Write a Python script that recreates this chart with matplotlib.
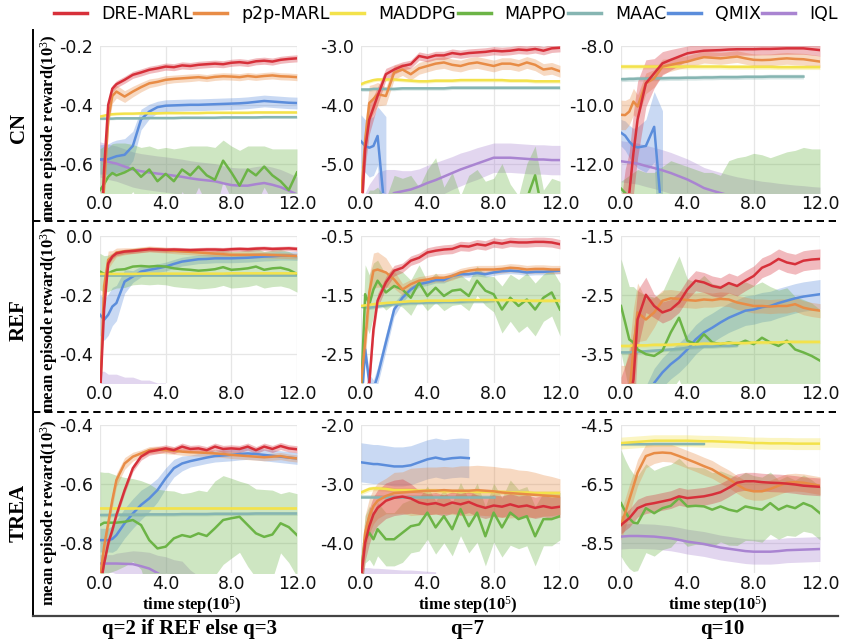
import numpy as np
import matplotlib
matplotlib.use('Agg')
import matplotlib.pyplot as plt
from matplotlib.lines import Line2D

plt.rcParams['axes.unicode_minus'] = False
plt.rcParams['mathtext.fontset'] = 'custom'
plt.rcParams['mathtext.rm'] = 'Liberation Serif'
plt.rcParams['mathtext.bf'] = 'Liberation Serif:bold'
plt.rcParams['mathtext.it'] = 'Liberation Serif:italic'

methods = ['DRE-MARL', 'p2p-MARL', 'MADDPG', 'MAPPO', 'MAAC', 'QMIX', 'IQL']
colors = ['#d7303a', '#e88c46', '#f3e24b', '#6cb446', '#86b5b2', '#5b8ddb', '#a984d1']
envs = ['CN', 'REF', 'TREA']
col_titles = ['q=2 if REF else q=3', 'q=7', 'q=10']
xticks = [0, 4, 8, 12]

# time step (1e5), shared by every curve
steps = [0.0, 0.25, 0.5, 0.75, 1.0, 1.5, 2.0, 2.5, 3.0,
         3.5, 4.0, 4.5, 5.0, 5.5, 6.0, 6.5, 7.0, 7.5,
         8.0, 8.5, 9.0, 9.5, 10.0, 10.5, 11.0, 11.5, 12.0]

# ---------------- CN, q=3 ----------------
cn_q3_ylim = (-0.7, -0.2)
cn_q3_yticks = [-0.6, -0.4, -0.2]
cn_q3_dre = [-0.90, -0.62, -0.40, -0.345, -0.330, -0.315, -0.298, -0.290, -0.281,
             -0.276, -0.270, -0.272, -0.266, -0.268, -0.264, -0.262, -0.260, -0.262,
             -0.257, -0.255, -0.258, -0.252, -0.250, -0.253, -0.247, -0.244, -0.242]
cn_q3_dre_sd = 0.012
cn_q3_p2p = [-0.90, -0.68, -0.45, -0.370, -0.355, -0.372, -0.355, -0.340, -0.327,
             -0.322, -0.315, -0.312, -0.310, -0.308, -0.306, -0.309, -0.305, -0.303,
             -0.304, -0.306, -0.302, -0.305, -0.302, -0.300, -0.303, -0.304, -0.306]
cn_q3_p2p_sd = [0.030, 0.030, 0.030, 0.025, 0.022, 0.020, 0.018, 0.016, 0.015,
                0.014, 0.014, 0.013, 0.013, 0.013, 0.012, 0.012, 0.012, 0.012,
                0.012, 0.012, 0.012, 0.012, 0.012, 0.012, 0.012, 0.012, 0.012]
cn_q3_maddpg = [-0.440, -0.437, -0.434, -0.432, -0.431, -0.430, -0.430, -0.429, -0.429,
                -0.429, -0.428, -0.428, -0.428, -0.428, -0.428, -0.427, -0.427, -0.427,
                -0.427, -0.427, -0.427, -0.426, -0.426, -0.426, -0.426, -0.426, -0.426]
cn_q3_maddpg_sd = 0.004
cn_q3_mappo = [-0.690, -0.670, -0.645, -0.632, -0.640, -0.630, -0.615, -0.645, -0.620,
               -0.660, -0.635, -0.660, -0.620, -0.640, -0.610, -0.640, -0.655, -0.590,
               -0.630, -0.675, -0.620, -0.640, -0.610, -0.640, -0.660, -0.690, -0.630]
cn_q3_mappo_sd = [0.14, 0.13, 0.10, 0.10, 0.11, 0.10, 0.08, 0.10, 0.08,
                  0.11, 0.09, 0.11, 0.075, 0.10, 0.07, 0.10, 0.11, 0.07,
                  0.09, 0.12, 0.08, 0.10, 0.07, 0.09, 0.11, 0.14, 0.08]
cn_q3_maac = [-0.447, -0.447, -0.447, -0.447, -0.446, -0.446, -0.446, -0.446, -0.445,
              -0.445, -0.445, -0.445, -0.444, -0.444, -0.444, -0.444, -0.444, -0.443,
              -0.443, -0.443, -0.443, -0.443, -0.442, -0.442, -0.442, -0.442, -0.442]
cn_q3_maac_sd = 0.004
cn_q3_qmix = [-0.586, -0.585, -0.585, -0.580, -0.575, -0.570, -0.540, -0.450, -0.423,
              -0.408, -0.403, -0.402, -0.401, -0.400, -0.400, -0.399, -0.398, -0.397,
              -0.396, -0.395, -0.393, -0.390, -0.387, -0.389, -0.391, -0.393, -0.394]
cn_q3_qmix_sd = [0.050, 0.050, 0.052, 0.055, 0.055, 0.055, 0.050, 0.035, 0.025,
                 0.020, 0.020, 0.020, 0.020, 0.020, 0.020, 0.020, 0.020, 0.020,
                 0.020, 0.020, 0.020, 0.020, 0.020, 0.020, 0.020, 0.020, 0.020]
cn_q3_iql = [-0.586, -0.590, -0.594, -0.597, -0.600, -0.610, -0.620, -0.626, -0.630,
             -0.634, -0.637, -0.641, -0.645, -0.650, -0.654, -0.657, -0.660, -0.667,
             -0.673, -0.675, -0.675, -0.670, -0.666, -0.672, -0.680, -0.692, -0.705]
cn_q3_iql_sd = 0.06

# ---------------- CN, q=7 ----------------
cn_q7_ylim = (-5.5, -3.0)
cn_q7_yticks = [-5.0, -4.0, -3.0]
cn_q7_dre = [-6.00, -4.76, -4.25, -4.05, -3.85, -3.48, -3.40, -3.34, -3.31,
             -3.17, -3.20, -3.16, -3.16, -3.12, -3.14, -3.12, -3.11, -3.10,
             -3.08, -3.09, -3.08, -3.06, -3.07, -3.05, -3.08, -3.04, -3.03]
cn_q7_dre_sd = [0.30, 0.30, 0.25, 0.20, 0.15, 0.10, 0.08, 0.07, 0.07,
                0.07, 0.07, 0.07, 0.07, 0.07, 0.07, 0.07, 0.07, 0.07,
                0.07, 0.07, 0.07, 0.07, 0.07, 0.07, 0.07, 0.07, 0.07]
cn_q7_p2p = [-5.60, -4.60, -3.97, -3.90, -3.82, -3.85, -3.45, -3.40, -3.48,
             -3.38, -3.34, -3.30, -3.28, -3.32, -3.34, -3.30, -3.28, -3.31,
             -3.34, -3.30, -3.30, -3.33, -3.28, -3.32, -3.40, -3.38, -3.43]
cn_q7_p2p_sd = [0.30, 0.30, 0.30, 0.25, 0.20, 0.15, 0.12, 0.10, 0.10,
                0.10, 0.10, 0.10, 0.10, 0.10, 0.10, 0.10, 0.10, 0.10,
                0.10, 0.10, 0.10, 0.10, 0.10, 0.10, 0.10, 0.10, 0.10]
cn_q7_maddpg = [-3.65, -3.62, -3.60, -3.58, -3.57, -3.57, -3.57, -3.58, -3.59,
                -3.60, -3.60, -3.59, -3.59, -3.59, -3.58, -3.58, -3.58, -3.58,
                -3.58, -3.58, -3.59, -3.59, -3.59, -3.60, -3.60, -3.60, -3.60]
cn_q7_maddpg_sd = 0.03
cn_q7_mappo = [-6.20, -6.10, -6.00, -5.95, -5.90, -6.10, -5.80, -6.00, -5.75,
               -6.00, -5.70, -5.55, -5.90, -5.75, -6.00, -5.80, -5.60, -5.90,
               -5.80, -5.70, -5.85, -6.00, -5.60, -5.20, -5.90, -5.75, -5.85]
cn_q7_mappo_sd = [0.50, 0.50, 0.55, 0.50, 0.50, 0.50, 0.60, 0.75, 0.55,
                  0.60, 0.60, 0.65, 0.50, 0.60, 0.45, 0.60, 0.50, 0.60,
                  0.55, 0.70, 0.50, 0.45, 0.60, 0.50, 0.45, 0.50, 0.55]
cn_q7_maac = [-3.74, -3.74, -3.74, -3.73, -3.73, -3.73, -3.73, -3.72, -3.72,
              -3.72, -3.72, -3.72, -3.72, -3.71, -3.71, -3.71, -3.71, -3.71,
              -3.71, -3.71, -3.71, -3.71, -3.71, -3.71, -3.71, -3.71, -3.71]
cn_q7_maac_sd = 0.03
cn_q7_qmix = [-4.62, -4.70, -4.73, -4.70, -4.53, -6.00, None, None, None,
              None, None, None, None, None, None, None, None, None,
              None, None, None, None, None, None, None, None, None]
cn_q7_qmix_sd = [0.45, 0.45, 0.50, 0.50, 0.50, 1.80, None, None, None,
                 None, None, None, None, None, None, None, None, None,
                 None, None, None, None, None, None, None, None, None]
cn_q7_iql = [-5.90, -5.85, -5.80, -5.75, -5.70, -5.60, -5.50, -5.47, -5.44,
             -5.39, -5.33, -5.28, -5.22, -5.16, -5.10, -5.05, -5.00, -4.95,
             -4.90, -4.90, -4.90, -4.91, -4.92, -4.93, -4.93, -4.94, -4.94]
cn_q7_iql_sd = [0.30, 0.35, 0.45, 0.50, 0.55, 0.50, 0.40, 0.35, 0.32,
                0.30, 0.30, 0.30, 0.29, 0.28, 0.28, 0.27, 0.27, 0.26,
                0.25, 0.25, 0.25, 0.25, 0.25, 0.25, 0.25, 0.25, 0.25]

# ---------------- CN, q=10 ----------------
cn_q10_ylim = (-13.0, -8.0)
cn_q10_yticks = [-12.0, -10.0, -8.0]
cn_q10_dre = [-14.50, -13.50, -13.00, -11.64, -10.50, -9.27, -8.93, -8.59, -8.47,
              -8.36, -8.25, -8.20, -8.16, -8.15, -8.14, -8.12, -8.11, -8.11,
              -8.11, -8.10, -8.10, -8.09, -8.08, -8.08, -8.08, -8.11, -8.14]
cn_q10_dre_sd = [1.2, 1.3, 1.4, 1.4, 1.3, 0.8, 0.5, 0.4, 0.35,
                 0.3, 0.25, 0.25, 0.22, 0.2, 0.2, 0.2, 0.2, 0.2,
                 0.2, 0.2, 0.2, 0.2, 0.2, 0.2, 0.2, 0.2, 0.2]
cn_q10_p2p = [-10.34, -10.35, -10.23, -9.89, -10.06, -9.27, -9.10, -8.70, -8.64,
              -8.58, -8.53, -8.45, -8.38, -8.40, -8.42, -8.39, -8.36, -8.42,
              -8.47, -8.48, -8.47, -8.44, -8.42, -8.44, -8.45, -8.49, -8.53]
cn_q10_p2p_sd = [0.50, 0.50, 0.45, 0.45, 0.40, 0.35, 0.30, 0.25, 0.22,
                 0.20, 0.20, 0.20, 0.20, 0.20, 0.20, 0.20, 0.20, 0.20,
                 0.20, 0.20, 0.20, 0.20, 0.20, 0.20, 0.20, 0.20, 0.20]
cn_q10_maddpg = [-8.70, -8.70, -8.70, -8.70, -8.70, -8.70, -8.70, -8.70, -8.70,
                 -8.70, -8.70, -8.70, -8.70, -8.70, -8.70, -8.71, -8.71, -8.71,
                 -8.71, -8.71, -8.71, -8.72, -8.72, -8.72, -8.72, -8.72, -8.72]
cn_q10_maddpg_sd = 0.08
cn_q10_mappo = [-12.85, -13.00, -13.20, -13.50, -13.80, -14.00, -14.00, -14.00, -14.00,
                -14.00, -14.00, -14.00, -14.00, -14.00, -14.00, -14.00, -14.00, -14.00,
                -14.00, -14.00, -14.00, -14.00, -14.00, -14.00, -14.00, -14.00, -14.00]
cn_q10_mappo_sd = [0.25, 0.5, 0.8, 1.2, 1.6, 1.7, 1.7, 1.9, 2.1,
                   2.0, 1.9, 1.8, 1.7, 1.7, 1.6, 2.1, 2.2, 2.25,
                   2.35, 2.3, 2.2, 2.3, 2.4, 2.45, 2.55, 2.5, 2.5]
cn_q10_maac = [-9.13, -9.13, -9.12, -9.12, -9.11, -9.11, -9.10, -9.10, -9.09,
               -9.09, -9.08, -9.08, -9.07, -9.07, -9.06, -9.06, -9.06, -9.05,
               -9.05, -9.05, -9.04, -9.04, -9.04, -9.04, -9.04, None, None]
cn_q10_maac_sd = 0.08
cn_q10_qmix = [-10.95, -11.05, -11.25, -11.40, -11.45, -11.40, -10.75, -14.00, None,
               None, None, None, None, None, None, None, None, None,
               None, None, None, None, None, None, None, None, None]
cn_q10_qmix_sd = [0.45, 0.50, 0.55, 0.60, 0.70, 0.90, 1.20, 3.80, None,
                  None, None, None, None, None, None, None, None, None,
                  None, None, None, None, None, None, None, None, None]
cn_q10_iql = [-11.92, -11.94, -11.96, -11.98, -12.00, -12.08, -12.15, -12.23, -12.32,
              -12.43, -12.54, -12.68, -12.83, -12.92, -13.00, -13.08, -13.15, -13.20,
              -13.25, -13.30, -13.33, -13.37, -13.40, -13.43, -13.45, -13.48, -13.50]
cn_q10_iql_sd = 0.7

# ---------------- REF, q=2 ----------------
ref_q2_ylim = (-0.5, 0.0)
ref_q2_yticks = [-0.4, -0.2, 0.0]
ref_q2_dre = [-0.550, -0.250, -0.093, -0.070, -0.059, -0.053, -0.051, -0.048, -0.045,
              -0.046, -0.047, -0.046, -0.047, -0.048, -0.047, -0.046, -0.046, -0.047,
              -0.045, -0.044, -0.045, -0.043, -0.042, -0.044, -0.043, -0.042, -0.044]
ref_q2_dre_sd = 0.008
ref_q2_p2p = [-0.550, -0.170, -0.081, -0.070, -0.056, -0.052, -0.050, -0.047, -0.044,
              -0.046, -0.048, -0.050, -0.052, -0.054, -0.056, -0.058, -0.060, -0.062,
              -0.064, -0.064, -0.064, -0.064, -0.064, -0.065, -0.066, -0.067, -0.068]
ref_q2_p2p_sd = [0.030, 0.030, 0.030, 0.020, 0.015, 0.012, 0.010, 0.010, 0.010,
                 0.010, 0.010, 0.010, 0.010, 0.010, 0.010, 0.010, 0.010, 0.010,
                 0.010, 0.010, 0.010, 0.010, 0.010, 0.010, 0.010, 0.010, 0.010]
ref_q2_maddpg = [-0.129, -0.129, -0.129, -0.129, -0.129, -0.129, -0.129, -0.128, -0.128,
                 -0.128, -0.128, -0.128, -0.128, -0.128, -0.128, -0.128, -0.128, -0.128,
                 -0.127, -0.127, -0.127, -0.127, -0.127, -0.127, -0.127, -0.127, -0.127]
ref_q2_maddpg_sd = 0.004
ref_q2_mappo = [-0.121, -0.129, -0.127, -0.120, -0.115, -0.113, -0.104, -0.102, -0.104,
                -0.102, -0.104, -0.110, -0.113, -0.115, -0.118, -0.116, -0.113, -0.106,
                -0.115, -0.113, -0.110, -0.104, -0.115, -0.110, -0.108, -0.115, -0.129]
ref_q2_mappo_sd = 0.062
ref_q2_maac = [-0.134, -0.134, -0.134, -0.134, -0.134, -0.134, -0.134, -0.134, -0.134,
               -0.134, -0.134, -0.134, -0.134, -0.134, -0.134, -0.134, -0.134, -0.134,
               -0.134, -0.134, -0.134, -0.134, -0.134, -0.134, -0.134, -0.134, -0.134]
ref_q2_maac_sd = 0.005
ref_q2_qmix = [-0.268, -0.285, -0.268, -0.240, -0.228, -0.155, -0.138, -0.121, -0.115,
               -0.110, -0.104, -0.095, -0.087, -0.083, -0.079, -0.078, -0.076, -0.076,
               -0.076, -0.075, -0.074, -0.072, -0.070, -0.069, -0.067, -0.067, -0.068]
ref_q2_qmix_sd = [0.070, 0.070, 0.070, 0.065, 0.060, 0.040, 0.020, 0.018, 0.016,
                  0.015, 0.015, 0.015, 0.015, 0.015, 0.015, 0.015, 0.015, 0.015,
                  0.015, 0.015, 0.015, 0.015, 0.015, 0.015, 0.015, 0.015, 0.015]
ref_q2_iql = [-0.60, -0.60, -0.61, -0.61, -0.61, -0.62, -0.62, -0.63, -0.63,
              -0.64, -0.64, None, None, None, None, None, None, None,
              None, None, None, None, None, None, None, None, None]
ref_q2_iql_sd = 0.14

# ---------------- REF, q=7 ----------------
ref_q7_ylim = (-3.0, -0.5)
ref_q7_yticks = [-2.5, -1.5, -0.5]
ref_q7_dre = [-3.50, -3.30, -3.00, -2.09, -1.60, -1.29, -1.09, -1.04, -0.92,
              -0.87, -0.78, -0.75, -0.73, -0.72, -0.67, -0.68, -0.64, -0.66,
              -0.61, -0.63, -0.60, -0.61, -0.61, -0.60, -0.60, -0.61, -0.64]
ref_q7_dre_sd = [0.20, 0.20, 0.20, 0.15, 0.12, 0.10, 0.09, 0.08, 0.08,
                 0.08, 0.08, 0.08, 0.08, 0.08, 0.08, 0.08, 0.08, 0.08,
                 0.08, 0.08, 0.08, 0.08, 0.08, 0.08, 0.08, 0.08, 0.08]
ref_q7_p2p = [-3.00, -2.31, -1.46, -1.09, -1.07, -1.12, -1.24, -1.41, -1.32,
              -1.26, -1.24, -1.21, -1.21, -1.18, -1.12, -1.09, -1.07, -1.07,
              -1.07, -1.06, -1.04, -1.05, -1.07, -1.06, -1.06, -1.07, -1.07]
ref_q7_p2p_sd = [0.30, 0.30, 0.30, 0.30, 0.30, 0.25, 0.15, 0.10, 0.08,
                 0.07, 0.07, 0.07, 0.07, 0.07, 0.07, 0.07, 0.07, 0.07,
                 0.07, 0.07, 0.07, 0.07, 0.07, 0.07, 0.07, 0.07, 0.07]
ref_q7_maddpg = [-1.69, -1.68, -1.67, -1.66, -1.65, -1.64, -1.63, -1.62, -1.61,
                 -1.61, -1.60, -1.60, -1.60, -1.60, -1.59, -1.59, -1.59, -1.59,
                 -1.59, -1.59, -1.59, -1.60, -1.60, -1.60, -1.60, -1.60, -1.60]
ref_q7_maddpg_sd = 0.03
ref_q7_mappo = [-3.20, -1.49, -1.66, -1.41, -1.26, -1.46, -1.35, -1.41, -1.55,
                -1.29, -1.52, -1.38, -1.52, -1.43, -1.41, -1.52, -1.26, -1.43,
                -1.49, -1.75, -1.55, -1.69, -1.58, -1.75, -1.55, -1.46, -1.75]
ref_q7_mappo_sd = [0.30, 0.50, 0.50, 0.45, 0.35, 0.30, 0.30, 0.30, 0.30,
                   0.30, 0.25, 0.25, 0.25, 0.25, 0.25, 0.25, 0.25, 0.25,
                   0.30, 0.40, 0.40, 0.45, 0.45, 0.45, 0.40, 0.40, 0.45]
ref_q7_maac = [-1.70, -1.71, -1.72, -1.71, -1.70, -1.68, -1.66, -1.65, -1.64,
               -1.64, -1.63, -1.63, -1.62, -1.62, -1.62, -1.61, -1.61, -1.61,
               -1.60, None, None, None, None, None, None, None, None]
ref_q7_maac_sd = 0.03
ref_q7_qmix = [-3.50, -2.43, -3.00, -3.10, -2.88, -2.31, -1.75, -1.55, -1.41,
               -1.32, -1.29, -1.25, -1.25, -1.18, -1.15, -1.15, -1.13, -1.15,
               -1.12, -1.10, -1.09, -1.10, -1.12, -1.11, -1.11, -1.10, -1.09]
ref_q7_qmix_sd = [0.15, 0.15, 0.15, 0.15, 0.15, 0.15, 0.12, 0.08, 0.06,
                  0.05, 0.05, 0.05, 0.05, 0.05, 0.05, 0.05, 0.05, 0.05,
                  0.05, 0.05, 0.05, 0.05, 0.05, 0.05, 0.05, 0.05, 0.05]
ref_q7_iql = None
ref_q7_iql_sd = None

# ---------------- REF, q=10 ----------------
ref_q10_ylim = (-4.0, -1.5)
ref_q10_yticks = [-3.5, -2.5, -1.5]
ref_q10_dre = [-4.50, -4.40, -4.30, -3.94, -2.92, -2.50, -2.69, -2.80, -2.75,
               -2.63, -2.41, -2.26, -2.29, -2.35, -2.38, -2.30, -2.35, -2.26,
               -2.18, -2.04, -1.98, -1.89, -1.95, -1.98, -1.92, -1.90, -1.89]
ref_q10_dre_sd = [0.60, 0.70, 0.80, 0.80, 0.50, 0.30, 0.20, 0.18, 0.17,
                  0.17, 0.17, 0.17, 0.17, 0.17, 0.17, 0.17, 0.17, 0.17,
                  0.17, 0.17, 0.17, 0.17, 0.17, 0.17, 0.17, 0.17, 0.17]
ref_q10_p2p = [-4.50, -4.50, -4.20, -3.43, -2.80, -2.92, -2.80, -2.60, -2.56,
               -2.57, -2.59, -2.60, -2.58, -2.59, -2.57, -2.58, -2.63, -2.66,
               -2.69, -2.69, -2.70, -2.69, -2.69, -2.66, -2.72, -2.75, -2.77]
ref_q10_p2p_sd = [0.80, 0.80, 0.80, 0.70, 0.50, 0.35, 0.25, 0.18, 0.15,
                  0.14, 0.13, 0.13, 0.13, 0.12, 0.12, 0.12, 0.12, 0.12,
                  0.12, 0.12, 0.12, 0.12, 0.12, 0.12, 0.12, 0.12, 0.12]
ref_q10_maddpg = [-3.37, -3.37, -3.37, -3.36, -3.36, -3.36, -3.35, -3.35, -3.35,
                  -3.34, -3.34, -3.34, -3.33, -3.33, -3.33, -3.32, -3.32, -3.32,
                  -3.31, -3.31, -3.31, -3.31, -3.30, -3.30, -3.30, -3.30, -3.30]
ref_q10_maddpg_sd = 0.03
ref_q10_mappo = [-2.69, -2.97, -3.26, -3.31, -3.43, -3.51, -3.54, -3.45, -3.14,
                 -2.89, -3.28, -3.34, -3.17, -3.31, -3.34, -3.31, -3.34, -3.28,
                 -3.34, -3.23, -3.31, -3.37, -3.28, -3.43, -3.48, -3.54, -3.62]
ref_q10_mappo_sd = [0.80, 0.85, 0.90, 0.95, 1.00, 1.00, 1.00, 1.00, 1.00,
                    1.05, 1.05, 1.05, 1.00, 1.00, 1.00, 1.00, 1.00, 1.00,
                    1.00, 0.95, 0.95, 0.95, 0.90, 0.90, 0.90, 0.90, 0.87]
ref_q10_maac = [-3.48, -3.48, -3.48, -3.47, -3.47, -3.46, -3.45, -3.44, -3.43,
                -3.42, -3.40, -3.39, -3.38, -3.38, -3.37, -3.37, -3.36, None,
                None, None, None, None, None, None, None, None, None]
ref_q10_maac_sd = 0.03
ref_q10_qmix = [-5.00, -4.95, -4.90, -4.80, -4.60, -4.30, -4.00, -3.82, -3.68,
                -3.57, -3.43, -3.26, -3.14, -3.06, -2.97, -2.89, -2.83, -2.77,
                -2.75, -2.71, -2.69, -2.64, -2.60, -2.56, -2.53, -2.51, -2.49]
ref_q10_qmix_sd = 0.25
ref_q10_iql = None
ref_q10_iql_sd = None

# ---------------- TREA, q=3 ----------------
trea_q3_ylim = (-0.9, -0.4)
trea_q3_yticks = [-0.8, -0.6, -0.4]
trea_q3_dre = [-0.950, -0.868, -0.800, -0.755, -0.704, -0.620, -0.546, -0.507, -0.490,
               -0.485, -0.479, -0.485, -0.473, -0.481, -0.479, -0.485, -0.473, -0.481,
               -0.479, -0.481, -0.473, -0.485, -0.473, -0.481, -0.471, -0.479, -0.482]
trea_q3_dre_sd = 0.012
trea_q3_p2p = [-0.920, -0.810, -0.732, -0.654, -0.586, -0.530, -0.507, -0.496, -0.485,
               -0.483, -0.485, -0.487, -0.490, -0.492, -0.493, -0.494, -0.496, -0.498,
               -0.501, -0.503, -0.505, -0.507, -0.509, -0.507, -0.505, -0.510, -0.513]
trea_q3_p2p_sd = [0.025, 0.025, 0.025, 0.025, 0.022, 0.020, 0.015, 0.012, 0.012,
                  0.012, 0.012, 0.012, 0.012, 0.012, 0.012, 0.012, 0.012, 0.012,
                  0.012, 0.012, 0.012, 0.012, 0.012, 0.012, 0.012, 0.012, 0.012]
trea_q3_maddpg = [-0.682, -0.682, -0.682, -0.682, -0.682, -0.682, -0.682, -0.682, -0.682,
                  -0.682, -0.682, -0.682, -0.682, -0.682, -0.682, -0.682, -0.682, -0.682,
                  -0.682, -0.682, -0.682, -0.682, -0.682, -0.682, -0.682, -0.682, -0.682]
trea_q3_maddpg_sd = 0.005
trea_q3_mappo = [-0.738, -0.730, -0.730, -0.730, -0.730, -0.727, -0.721, -0.738, -0.789,
                 -0.817, -0.811, -0.783, -0.772, -0.778, -0.766, -0.775, -0.749, -0.721,
                 -0.715, -0.710, -0.738, -0.766, -0.778, -0.770, -0.732, -0.745, -0.772]
trea_q3_mappo_sd = [0.18, 0.17, 0.17, 0.165, 0.16, 0.15, 0.14, 0.15, 0.19,
                    0.20, 0.19, 0.16, 0.14, 0.15, 0.146, 0.15, 0.16, 0.15,
                    0.135, 0.12, 0.14, 0.15, 0.16, 0.15, 0.10, 0.12, 0.14]
trea_q3_maac = [-0.704, -0.704, -0.704, -0.704, -0.703, -0.703, -0.703, -0.703, -0.702,
                -0.702, -0.702, -0.702, -0.701, -0.701, -0.701, -0.701, -0.700, -0.700,
                -0.700, -0.700, -0.700, -0.699, -0.699, -0.699, -0.699, -0.699, -0.699]
trea_q3_maac_sd = 0.006
trea_q3_qmix = [-0.789, -0.789, -0.789, -0.785, -0.772, -0.732, -0.699, -0.670, -0.648,
                -0.620, -0.580, -0.546, -0.530, -0.522, -0.516, -0.510, -0.505, -0.503,
                -0.501, -0.498, -0.496, -0.498, -0.501, -0.504, -0.507, -0.510, -0.513]
trea_q3_qmix_sd = [0.040, 0.040, 0.040, 0.045, 0.050, 0.050, 0.050, 0.050, 0.045,
                   0.040, 0.035, 0.030, 0.025, 0.020, 0.020, 0.020, 0.020, 0.020,
                   0.020, 0.020, 0.020, 0.020, 0.020, 0.020, 0.020, 0.020, 0.020]
trea_q3_iql = [-0.868, -0.868, -0.868, -0.868, -0.868, -0.869, -0.870, -0.877, -0.885,
               -0.900, -0.915, -0.930, -0.945, -0.960, -0.970, -0.980, -0.990, -1.000,
               -1.000, -1.000, -1.000, -1.000, -1.000, -1.000, -1.000, -1.000, -1.000]
trea_q3_iql_sd = [0.030, 0.030, 0.030, 0.030, 0.035, 0.040, 0.045, 0.050, 0.055,
                  0.060, 0.070, 0.075, 0.085, 0.070, 0.060, 0.050, 0.050, 0.050,
                  0.050, 0.050, 0.050, 0.050, 0.050, 0.050, 0.050, 0.050, 0.050]

# ---------------- TREA, q=7 ----------------
trea_q7_ylim = (-4.5, -2.0)
trea_q7_yticks = [-4.0, -3.0, -2.0]
trea_q7_dre = [-4.60, -3.99, -3.71, -3.51, -3.40, -3.28, -3.23, -3.21, -3.24,
               -3.31, -3.34, -3.32, -3.36, -3.31, -3.34, -3.30, -3.36, -3.40,
               -3.36, -3.38, -3.34, -3.38, -3.36, -3.40, -3.37, -3.40, -3.38]
trea_q7_dre_sd = [0.30, 0.30, 0.30, 0.30, 0.30, 0.30, 0.30, 0.30, 0.25,
                  0.20, 0.18, 0.18, 0.18, 0.18, 0.18, 0.18, 0.18, 0.18,
                  0.18, 0.18, 0.18, 0.18, 0.18, 0.18, 0.18, 0.18, 0.18]
trea_q7_p2p = [-4.60, -3.82, -3.54, -3.37, -3.28, -3.20, -3.15, -3.14, -3.13,
               -3.12, -3.11, -3.11, -3.10, -3.11, -3.11, -3.11, -3.10, -3.11,
               -3.12, -3.14, -3.15, -3.16, -3.17, -3.18, -3.19, -3.20, -3.21]
trea_q7_p2p_sd = [0.30, 0.30, 0.30, 0.30, 0.30, 0.30, 0.35, 0.35, 0.40,
                  0.40, 0.40, 0.40, 0.40, 0.40, 0.42, 0.42, 0.42, 0.42,
                  0.42, 0.42, 0.42, 0.40, 0.40, 0.38, 0.35, 0.33, 0.30]
trea_q7_maddpg = [-3.14, -3.11, -3.08, -3.07, -3.07, -3.08, -3.10, -3.10, -3.10,
                  -3.11, -3.11, -3.11, -3.12, -3.12, -3.12, -3.12, -3.13, -3.13,
                  -3.13, -3.13, -3.14, -3.14, -3.14, -3.15, -3.15, -3.15, -3.15]
trea_q7_maddpg_sd = 0.04
trea_q7_mappo = [-4.50, -3.93, -3.82, -3.93, -3.76, -3.93, -3.93, -3.82, -3.71,
                 -3.68, -3.48, -3.73, -3.54, -3.76, -3.42, -3.71, -3.48, -3.88,
                 -3.48, -3.73, -3.48, -3.59, -3.54, -3.88, -3.59, -3.59, -3.54]
trea_q7_mappo_sd = [0.30, 0.40, 0.45, 0.45, 0.45, 0.45, 0.45, 0.50, 0.45,
                    0.45, 0.45, 0.45, 0.45, 0.45, 0.45, 0.45, 0.50, 0.50,
                    0.50, 0.50, 0.55, 0.50, 0.50, 0.50, 0.45, 0.45, 0.40]
trea_q7_maac = [-3.21, -3.21, -3.21, -3.21, -3.21, -3.21, -3.21, -3.21, -3.21,
                -3.21, -3.21, -3.21, -3.21, -3.21, -3.21, -3.21, -3.21, -3.21,
                -3.21, None, None, None, None, None, None, None, None]
trea_q7_maac_sd = 0.02
trea_q7_qmix = [-2.63, -2.64, -2.65, -2.66, -2.66, -2.68, -2.70, -2.70, -2.68,
                -2.63, -2.58, -2.55, -2.58, -2.56, -2.55, -2.56, None, None,
                None, None, None, None, None, None, None, None, None]
trea_q7_qmix_sd = 0.33
trea_q7_iql = [-4.65, -4.66, -4.66, -4.67, -4.67, -4.68, -4.69, -4.70, -4.70,
               -4.71, -4.72, -4.73, None, None, None, None, None, None,
               None, None, None, None, None, None, None, None, None]
trea_q7_iql_sd = 0.25

# ---------------- TREA, q=10 ----------------
trea_q10_ylim = (-9.5, -4.5)
trea_q10_yticks = [-8.5, -6.5, -4.5]
trea_q10_dre = [-7.88, -7.76, -7.65, -7.48, -7.31, -7.19, -7.14, -7.08, -7.02,
                -6.91, -6.97, -6.94, -6.91, -6.85, -6.77, -6.62, -6.45, -6.40,
                -6.40, -6.43, -6.45, -6.46, -6.48, -6.51, -6.55, -6.57, -6.59]
trea_q10_dre_sd = 0.3
trea_q10_p2p = [-7.88, -7.48, -7.02, -6.57, -6.11, -5.55, -5.45, -5.43, -5.45,
                -5.55, -5.66, -5.77, -5.89, -6.00, -6.17, -6.32, -6.51, -6.68,
                -6.74, -6.74, -6.66, -6.55, -6.45, -6.43, -6.45, -6.50, -6.55]
trea_q10_p2p_sd = [0.50, 0.50, 0.50, 0.45, 0.45, 0.40, 0.35, 0.30, 0.30,
                   0.30, 0.30, 0.30, 0.30, 0.30, 0.30, 0.30, 0.30, 0.30,
                   0.30, 0.30, 0.30, 0.30, 0.30, 0.30, 0.30, 0.30, 0.30]
trea_q10_maddpg = [-5.11, -5.10, -5.09, -5.08, -5.07, -5.05, -5.03, -5.03, -5.03,
                   -5.03, -5.03, -5.04, -5.05, -5.05, -5.06, -5.07, -5.08, -5.09,
                   -5.11, -5.11, -5.12, -5.12, -5.12, -5.13, -5.13, -5.13, -5.13]
trea_q10_maddpg_sd = 0.2
trea_q10_mappo = [-7.14, -7.42, -7.65, -7.80, -7.82, -7.31, -7.48, -7.31, -7.23,
                  -6.97, -7.25, -7.23, -7.25, -7.36, -7.25, -7.36, -7.42, -7.25,
                  -7.31, -7.36, -7.14, -7.36, -7.23, -7.31, -7.14, -7.25, -7.48]
trea_q10_mappo_sd = [1.80, 1.75, 1.70, 1.65, 1.60, 1.50, 1.45, 1.40, 1.40,
                     1.35, 1.35, 1.30, 1.30, 1.25, 1.20, 1.20, 1.15, 1.15,
                     1.10, 1.10, 1.05, 1.00, 1.00, 0.95, 0.95, 0.90, 0.90]
trea_q10_maac = [-5.15, -5.15, -5.15, -5.15, -5.15, -5.15, -5.14, -5.14, -5.14,
                 -5.14, -5.14, -5.14, -5.14, None, None, None, None, None,
                 None, None, None, None, None, None, None, None, None]
trea_q10_maac_sd = 0.05
trea_q10_qmix = None
trea_q10_qmix_sd = None
trea_q10_iql = [-8.27, -8.26, -8.25, -8.25, -8.25, -8.26, -8.27, -8.30, -8.33,
                -8.38, -8.44, -8.48, -8.52, -8.58, -8.64, -8.68, -8.72, -8.76,
                -8.78, -8.78, -8.78, -8.76, -8.73, -8.72, -8.71, -8.70, -8.69]
trea_q10_iql_sd = 0.42

# panel tables (method order as in `methods`)
panels = [
    [(cn_q3_ylim, cn_q3_yticks,
      [(cn_q3_dre, cn_q3_dre_sd), (cn_q3_p2p, cn_q3_p2p_sd), (cn_q3_maddpg, cn_q3_maddpg_sd),
       (cn_q3_mappo, cn_q3_mappo_sd), (cn_q3_maac, cn_q3_maac_sd), (cn_q3_qmix, cn_q3_qmix_sd),
       (cn_q3_iql, cn_q3_iql_sd)]),
     (cn_q7_ylim, cn_q7_yticks,
      [(cn_q7_dre, cn_q7_dre_sd), (cn_q7_p2p, cn_q7_p2p_sd), (cn_q7_maddpg, cn_q7_maddpg_sd),
       (cn_q7_mappo, cn_q7_mappo_sd), (cn_q7_maac, cn_q7_maac_sd), (cn_q7_qmix, cn_q7_qmix_sd),
       (cn_q7_iql, cn_q7_iql_sd)]),
     (cn_q10_ylim, cn_q10_yticks,
      [(cn_q10_dre, cn_q10_dre_sd), (cn_q10_p2p, cn_q10_p2p_sd), (cn_q10_maddpg, cn_q10_maddpg_sd),
       (cn_q10_mappo, cn_q10_mappo_sd), (cn_q10_maac, cn_q10_maac_sd), (cn_q10_qmix, cn_q10_qmix_sd),
       (cn_q10_iql, cn_q10_iql_sd)])],
    [(ref_q2_ylim, ref_q2_yticks,
      [(ref_q2_dre, ref_q2_dre_sd), (ref_q2_p2p, ref_q2_p2p_sd), (ref_q2_maddpg, ref_q2_maddpg_sd),
       (ref_q2_mappo, ref_q2_mappo_sd), (ref_q2_maac, ref_q2_maac_sd), (ref_q2_qmix, ref_q2_qmix_sd),
       (ref_q2_iql, ref_q2_iql_sd)]),
     (ref_q7_ylim, ref_q7_yticks,
      [(ref_q7_dre, ref_q7_dre_sd), (ref_q7_p2p, ref_q7_p2p_sd), (ref_q7_maddpg, ref_q7_maddpg_sd),
       (ref_q7_mappo, ref_q7_mappo_sd), (ref_q7_maac, ref_q7_maac_sd), (ref_q7_qmix, ref_q7_qmix_sd),
       (ref_q7_iql, ref_q7_iql_sd)]),
     (ref_q10_ylim, ref_q10_yticks,
      [(ref_q10_dre, ref_q10_dre_sd), (ref_q10_p2p, ref_q10_p2p_sd), (ref_q10_maddpg, ref_q10_maddpg_sd),
       (ref_q10_mappo, ref_q10_mappo_sd), (ref_q10_maac, ref_q10_maac_sd), (ref_q10_qmix, ref_q10_qmix_sd),
       (ref_q10_iql, ref_q10_iql_sd)])],
    [(trea_q3_ylim, trea_q3_yticks,
      [(trea_q3_dre, trea_q3_dre_sd), (trea_q3_p2p, trea_q3_p2p_sd), (trea_q3_maddpg, trea_q3_maddpg_sd),
       (trea_q3_mappo, trea_q3_mappo_sd), (trea_q3_maac, trea_q3_maac_sd), (trea_q3_qmix, trea_q3_qmix_sd),
       (trea_q3_iql, trea_q3_iql_sd)]),
     (trea_q7_ylim, trea_q7_yticks,
      [(trea_q7_dre, trea_q7_dre_sd), (trea_q7_p2p, trea_q7_p2p_sd), (trea_q7_maddpg, trea_q7_maddpg_sd),
       (trea_q7_mappo, trea_q7_mappo_sd), (trea_q7_maac, trea_q7_maac_sd), (trea_q7_qmix, trea_q7_qmix_sd),
       (trea_q7_iql, trea_q7_iql_sd)]),
     (trea_q10_ylim, trea_q10_yticks,
      [(trea_q10_dre, trea_q10_dre_sd), (trea_q10_p2p, trea_q10_p2p_sd), (trea_q10_maddpg, trea_q10_maddpg_sd),
       (trea_q10_mappo, trea_q10_mappo_sd), (trea_q10_maac, trea_q10_maac_sd), (trea_q10_qmix, trea_q10_qmix_sd),
       (trea_q10_iql, trea_q10_iql_sd)])],
]

W, H = 849, 643
fig = plt.figure(figsize=(W / 100, H / 100), dpi=100)


def fx(px):
    return px / W


def fy(py):
    return 1 - py / H


col_left = [100, 361, 621]
col_right = [297, 560, 820]
row_top = [46, 236, 425]
row_bottom = [193, 383, 573]
serif = 'Liberation Serif'

x = np.array(steps)
for r in range(3):
    for c in range(3):
        ylim, yticks, series = panels[r][c]
        ax = fig.add_axes([fx(col_left[c]), fy(row_bottom[r]),
                           fx(col_right[c]) - fx(col_left[c]), fy(row_top[r]) - fy(row_bottom[r])])
        # bands first, then lines with DRE-MARL on top
        for i in reversed(range(len(methods))):
            mean, sd = series[i]
            if mean is None:
                continue
            m = np.array(mean, dtype=float)
            s = np.array(sd, dtype=float) if isinstance(sd, list) else sd
            ax.fill_between(x, m - s, m + s, color=colors[i], alpha=0.33, lw=0, zorder=1)
        for i in reversed(range(len(methods))):
            mean, sd = series[i]
            if mean is None:
                continue
            ax.plot(x, np.array(mean, dtype=float), color=colors[i], lw=1.8, zorder=3)
        ax.set_xlim(0, 12)
        ax.set_ylim(*ylim)
        ax.set_xticks(xticks)
        ax.set_yticks(yticks)
        ax.xaxis.set_major_formatter(matplotlib.ticker.FormatStrFormatter('%.1f'))
        ax.yaxis.set_major_formatter(matplotlib.ticker.FormatStrFormatter('%.1f'))
        ax.tick_params(length=0, labelsize=12.5, colors='#111111')
        ax.tick_params(axis='x', pad=1.5)
        ax.tick_params(axis='y', pad=5)
        ax.grid(True, color='#e6e6e6', lw=0.9)
        ax.set_axisbelow(True)
        for sp in ax.spines.values():
            sp.set_visible(False)

# row labels and y labels
row_center = [128, 320, 513]
for r in range(3):
    fig.text(fx(19), fy(row_center[r]), envs[r], rotation=90, ha='center', va='center',
             family=serif, fontweight='bold', fontsize=15)
    fig.text(fx(49), fy(row_center[r]), 'mean episode reward(10$^3$)', rotation=90,
             ha='center', va='center', family=serif, fontweight='bold', fontsize=12)

# x labels and column titles
xlabel_center = [192, 468, 718]
title_center = [190, 467, 722]
for c in range(3):
    fig.text(fx(xlabel_center[c]), fy(605), 'time step(10$^5$)', ha='center', va='center',
             family=serif, fontweight='bold', fontsize=12)
    fig.text(fx(title_center[c]), fy(629), col_titles[c], ha='center', va='center',
             family=serif, fontweight='bold', fontsize=15)

# frame lines
fig.add_artist(Line2D([fx(33), fx(33)], [fy(30), fy(616)], color='black', lw=1.4))
fig.add_artist(Line2D([fx(33), fx(838)], [fy(616), fy(616)], color='#444444', lw=1.6))
for yy in [221, 412]:
    fig.add_artist(Line2D([fx(33), fx(836)], [fy(yy), fy(yy)], color='black', lw=1.4,
                          linestyle=(0, (3.8, 2.4))))

handles = [Line2D([], [], color=col, lw=2.5) for col in colors]
fig.legend(handles, methods, loc='center', bbox_to_anchor=(fx(446), fy(14)), ncol=7,
           frameon=False, fontsize=12.5, handlelength=1.9, handletextpad=0.8,
           columnspacing=0.1, borderaxespad=0, borderpad=0)

fig.savefig('out.png', dpi=100)
